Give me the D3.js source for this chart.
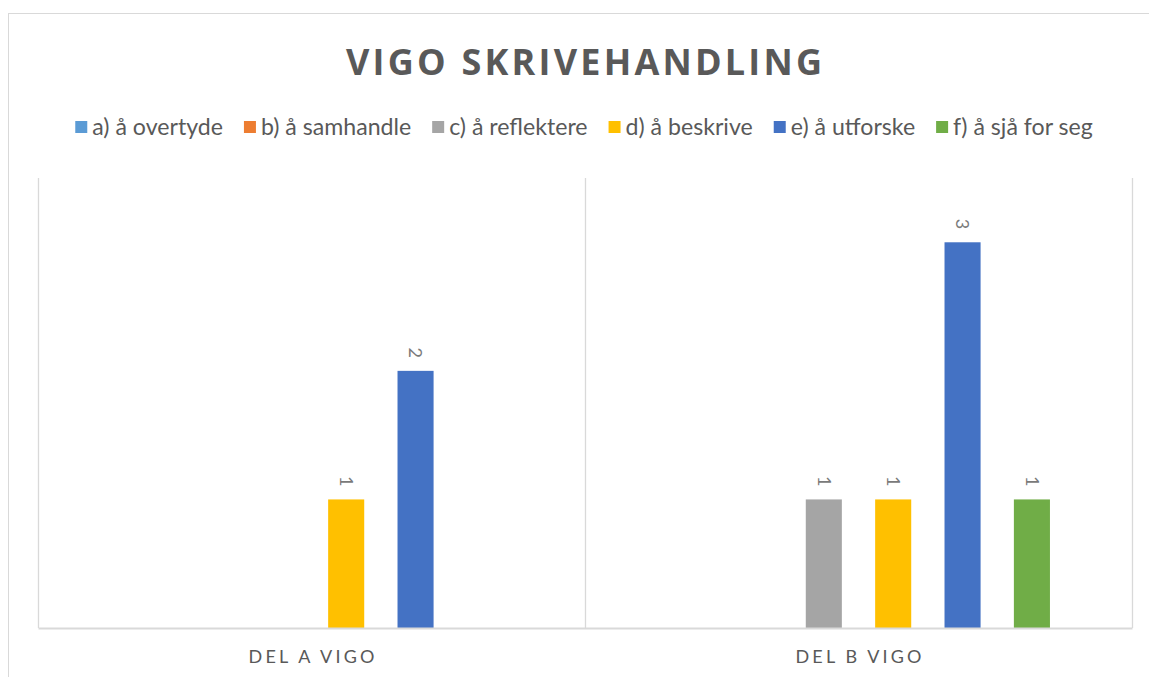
<!DOCTYPE html>
<html>
<head>
<meta charset="utf-8">
<script src="https://cdn.jsdelivr.net/npm/d3@7"></script>
<style>
  html, body { margin: 0; padding: 0; background: #fff; }
  svg { display: block; }
</style>
</head>
<body>
<div id="chart"></div>
<script>
// data
const categories = ['DEL A VIGO', 'DEL B VIGO'];
const seriesNames = ['a) å overtyde', 'b) å samhandle', 'c) å reflektere', 'd) å beskrive', 'e) å utforske', 'f) å sjå for seg'];
const seriesColors = ['#5B9BD5', '#ED7D31', '#A5A5A5', '#FFC000', '#4472C4', '#70AD47'];
const delA = [0, 0, 0, 1, 2, 0];
const delB = [0, 0, 1, 1, 3, 1];
const yMax = 3.5;

const W = 1149, H = 677;
const plot = { left: 38, right: 1132, top: 178, bottom: 628 };
const textColor = '#595959';
const gridColor = '#D9D9D9';
const font = 'Lato, "Open Sans", sans-serif';

const values = [delA, delB];

const svg = d3.select('#chart').append('svg')
    .attr('width', W)
    .attr('height', H)
    .style('font-family', font);

// cadre du graphique
svg.append('rect')
    .attr('x', 8.5).attr('y', 13.5)
    .attr('width', W + 20).attr('height', H + 20)
    .attr('fill', '#fff')
    .attr('stroke', gridColor)
    .attr('stroke-width', 1);

// ── Titre ──────────────────────────────────────────────
svg.append('text')
    .attr('x', 584)
    .attr('y', 75)
    .attr('text-anchor', 'middle')
    .attr('font-family', '"Open Sans", sans-serif')
    .attr('font-size', 36)
    .attr('font-weight', 'bold')
    .attr('fill', textColor)
    .attr('textLength', 476)
    .attr('lengthAdjust', 'spacing')
    .text('VIGO SKRIVEHANDLING');

// ── Légende ────────────────────────────────────────────
const legendY = 127, sw = 12, swGap = 5, itemGap = 21;
const legendLeft = 75, legendRight = 1093;
const legend = svg.append('g');
const items = legend.selectAll('g.item')
    .data(seriesNames)
    .join('g')
    .attr('class', 'item');
items.append('rect')
    .attr('width', sw).attr('height', sw)
    .attr('y', legendY - sw / 2)
    .attr('fill', (d, i) => seriesColors[i]);
const legendText = items.append('text')
    .attr('x', sw + swGap)
    .attr('y', legendY)
    .attr('dy', '0.35em')
    .attr('font-size', 20)
    .attr('fill', textColor)
    .text(d => d);

// ajuster la taille pour que la légende occupe la même largeur
const fixed = seriesNames.length * (sw + swGap) + itemGap * (seriesNames.length - 1);
let measured = 0;
legendText.each(function () { measured += this.getComputedTextLength(); });
const fs = 20 * (legendRight - legendLeft - fixed) / measured;
legendText.attr('font-size', fs);

let widths = [];
items.each(function () { widths.push(this.getBBox().width); });
const total = d3.sum(widths) + itemGap * (widths.length - 1);
let cx = (legendLeft + legendRight) / 2 - total / 2;
items.attr('transform', (d, i) => {
    const x = cx;
    cx += widths[i] + itemGap;
    return `translate(${x},0)`;
});

// ── Échelles ───────────────────────────────────────────
const x0 = d3.scaleBand()
    .domain(categories)
    .range([plot.left, plot.right])
    .padding(0);

const x1 = d3.scaleBand()
    .domain(seriesNames)
    .range([x0.bandwidth() * 0.15, x0.bandwidth() * 0.85])
    .paddingInner(0.48)
    .paddingOuter(0);

const y = d3.scaleLinear()
    .domain([0, yMax])
    .range([plot.bottom, plot.top]);

// lignes verticales entre catégories
const bounds = categories.map(c => x0(c)).concat([plot.right]);
svg.append('g').selectAll('line')
    .data(bounds)
    .join('line')
    .attr('x1', d => d + 0.5).attr('x2', d => d + 0.5)
    .attr('y1', plot.top).attr('y2', plot.bottom)
    .attr('stroke', gridColor)
    .attr('stroke-width', 1.3);

// ── Barres ─────────────────────────────────────────────
const groups = svg.append('g').selectAll('g.cat')
    .data(categories)
    .join('g')
    .attr('class', 'cat')
    .attr('transform', d => `translate(${x0(d)},0)`);

const bars = groups.selectAll('g.bar')
    .data((c, ci) => seriesNames.map((s, si) => ({ s, si, v: values[ci][si] })))
    .join('g')
    .attr('class', 'bar');

bars.filter(d => d.v > 0).append('rect')
    .attr('x', d => x1(d.s))
    .attr('width', x1.bandwidth())
    .attr('y', d => y(d.v))
    .attr('height', d => y(0) - y(d.v))
    .attr('fill', d => seriesColors[d.si]);

// étiquettes de données (tournées de 90°)
bars.filter(d => d.v > 0).append('text')
    .attr('transform', d => `translate(${x1(d.s) + x1.bandwidth() / 2},${y(d.v) - 13}) rotate(90)`)
    .attr('text-anchor', 'end')
    .attr('dy', '0.35em')
    .attr('font-size', 18)
    .attr('fill', '#7a7a7a')
    .text(d => d.v);

// axe horizontal
const xAxis = svg.append('g')
    .attr('transform', `translate(0,${plot.bottom})`)
    .call(d3.axisBottom(x0).tickSize(0).tickPadding(0));
xAxis.select('.domain')
    .attr('stroke', gridColor)
    .attr('stroke-width', 2);
xAxis.selectAll('.tick text')
    .attr('y', 29)
    .attr('dy', '0.35em')
    .attr('font-family', font)
    .attr('font-size', 18)
    .attr('fill', textColor)
    .attr('textLength', 126)
    .attr('lengthAdjust', 'spacing');
</script>
</body>
</html>
